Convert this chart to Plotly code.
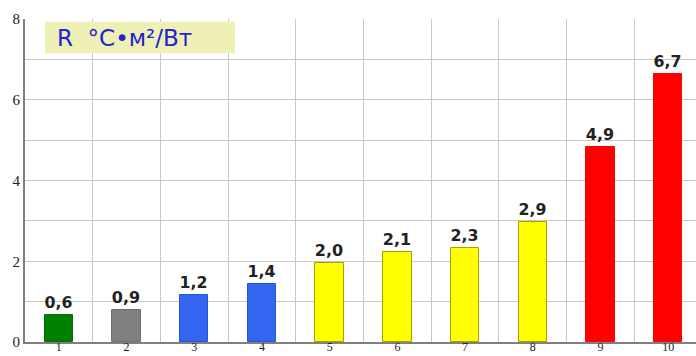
import plotly.graph_objects as go

categories = [1, 2, 3, 4, 5, 6, 7, 8, 9, 10]
bar_heights = [0.67, 0.8, 1.17, 1.43, 1.95, 2.22, 2.34, 2.97, 4.83, 6.63]
value_labels = ["0,6", "0,9", "1,2", "1,4", "2,0", "2,1", "2,3", "2,9", "4,9", "6,7"]
bar_colors = ["#008000", "#808080", "#3366f0", "#3366f0", "#ffff00",
              "#ffff00", "#ffff00", "#ffff00", "#ff0000", "#ff0000"]
bar_edges = ["#007000", "#707070", "#2a55d0", "#2a55d0", "#a8a000",
             "#a8a000", "#a8a000", "#a8a000", "#ff0000", "#ff0000"]
y_tick_vals = [0, 1, 2, 3, 4, 5, 6, 7, 8]
y_tick_text = ["0", "", "2", "", "4", "", "6", "", "8"]
unit_label = "R  °C•м²/Вт"

fig = go.Figure()
fig.add_trace(go.Bar(
    x=categories, y=bar_heights, width=0.42,
    marker=dict(color=bar_colors, line=dict(color=bar_edges, width=1)),
    text=value_labels, textposition="outside", cliponaxis=False,
    textfont=dict(family="DejaVu Sans", size=16, color="#222222"),
    texttemplate="<b>%{text}</b>",
))

fig.add_shape(type="rect", xref="x", yref="y", x0=0.795, x1=3.6, y0=7.15, y1=7.93,
              fillcolor="#eef0b6", line=dict(width=0), layer="above")
fig.add_annotation(xref="x", yref="y", x=0.94, y=7.54, xanchor="left", yanchor="middle",
                   text=unit_label, showarrow=False,
                   font=dict(family="DejaVu Sans", size=23, color="#2424cc"))

fig.update_layout(
    width=696, height=356,
    margin=dict(l=25, r=0, t=19, b=14),
    paper_bgcolor="white", plot_bgcolor="white",
    showlegend=False,
    bargap=0,
    xaxis=dict(
        range=[0.5, 10.41], tickvals=categories, ticktext=[str(c) for c in categories],
        showgrid=False, zeroline=False, automargin=False,
        showline=True, linecolor="#808080", linewidth=2,
        ticks="", ticklabelstandoff=-7,
        tickfont=dict(family="Liberation Serif", size=12, color="#222222"),
        minor=dict(tick0=0.5, dtick=1, showgrid=True, gridcolor="#c8c8c8", gridwidth=1),
    ),
    yaxis=dict(
        range=[0, 8], tickvals=y_tick_vals, ticktext=y_tick_text, automargin=False,
        showgrid=True, gridcolor="#c8c8c8", gridwidth=1, zeroline=False,
        showline=True, linecolor="#808080", linewidth=2,
        ticks="", tickfont=dict(family="Liberation Serif", size=15, color="#222222"),
    ),
)

fig.write_html("out.html")
